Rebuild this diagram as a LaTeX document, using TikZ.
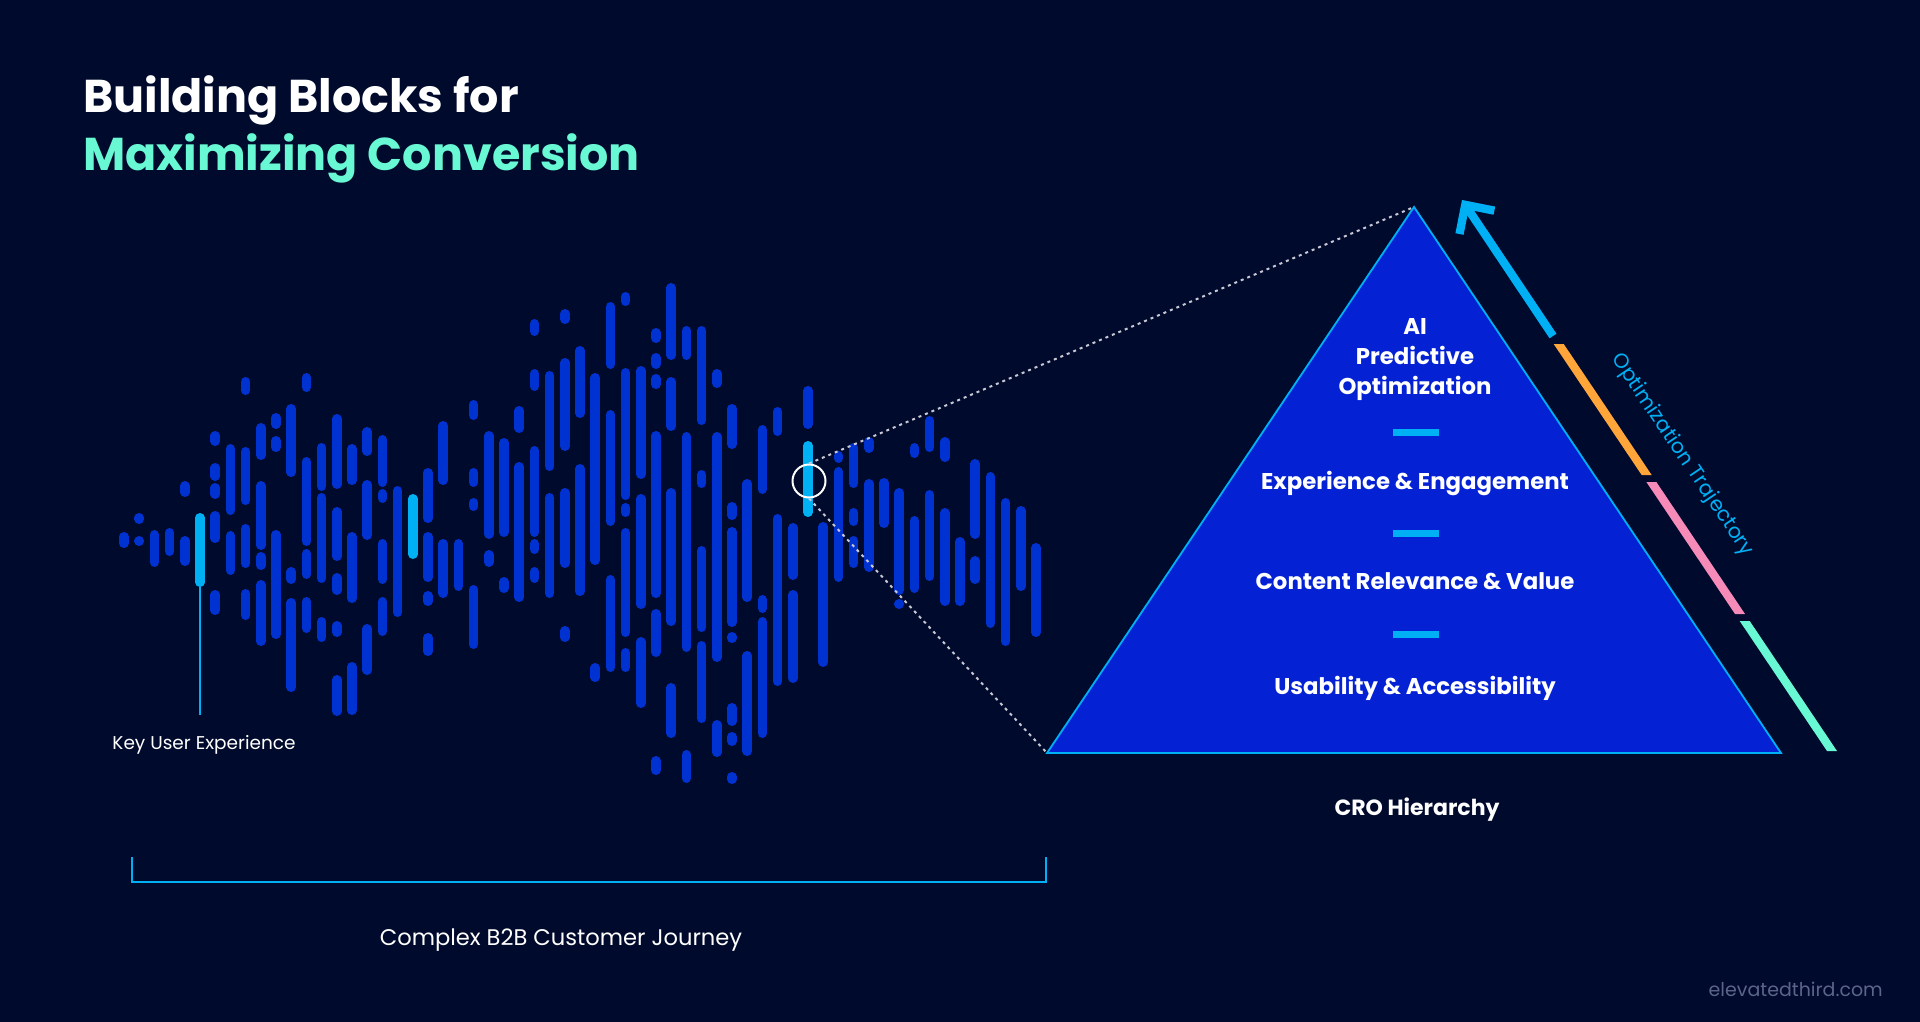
\documentclass[tikz,border=0pt]{standalone}
\usepackage{fontspec}
\setmainfont{Poppins}
\usepackage{tikz}
\usetikzlibrary{arrows.meta}
\definecolor{night}{RGB}{0,10,44}
\definecolor{barblue}{RGB}{0,50,210}
\definecolor{pyrblue}{RGB}{4,34,212}
\definecolor{skycyan}{RGB}{0,176,245}
\definecolor{mint}{RGB}{104,248,211}
\definecolor{amber}{RGB}{255,165,58}
\definecolor{rose}{RGB}{246,138,184}
\definecolor{dotgrey}{RGB}{200,200,212}
\definecolor{sitegrey}{RGB}{92,100,138}
\tikzset{
  wavebar/.style  ={draw=barblue, line width=9.5pt, line cap=round},
  keybar/.style   ={draw=skycyan, line width=9.5pt, line cap=round},
  keyline/.style  ={draw=skycyan, line width=1.6pt},
  ring/.style     ={circle, draw=white, line width=2pt, minimum size=33pt, inner sep=0pt},
  zoomline/.style ={draw=dotgrey, line width=2pt, dash pattern=on 3pt off 4pt},
  pyramid/.style  ={fill=pyrblue, draw=skycyan, line width=1.8pt, line join=miter},
  sepdash/.style  ={draw=skycyan, line width=7pt},
  bracket/.style  ={draw=skycyan, line width=2pt},
  trajarrow/.style={draw=skycyan, line width=8.3pt, -{Straight Barb[length=21pt,width=42pt]}},
  titletext/.style={anchor=base west, inner sep=0pt, text=white, font=\bfseries\fontsize{46}{54}\selectfont},
  lvltext/.style  ={anchor=base, inner sep=0pt, text=white, font=\bfseries\fontsize{22.8}{30}\selectfont},
  captext/.style  ={anchor=base, inner sep=0pt, text=white, font=\fontsize{22.6}{26}\selectfont},
  crotext/.style  ={captext, font=\bfseries\fontsize{22}{26}\selectfont},
  keytext/.style  ={captext, font=\fontsize{18.5}{22}\selectfont},
  trajtext/.style ={inner sep=0pt, text=skycyan, font=\fontsize{20.5}{24}\selectfont},
  sitetext/.style ={anchor=base east, inner sep=0pt, text=sitegrey, font=\fontsize{19}{23}\selectfont},
}

\begin{document}
\begin{tikzpicture}[x=1pt,y=-1pt]
% --- background ---
\fill[night] (0,0) rectangle (1920,1022);
% --- title ---
\node[titletext] (title1) at (83,113) {Building Blocks for};
\node[titletext, text=mint] (title2) at (83,171) {Maximizing Conversion};
% --- journey: column / top / bottom ---
\foreach \i/\a/\b in {0/532/548, 1/513/524, 1/536/545, 2/530/567, 3/528/556, 4/481/497, 4/536/566,
  6/431/446, 6/463/481, 6/483/499, 6/511/543, 6/590/615, 7/444/515, 7/531/575,
  8/377/395, 8/447/505, 8/524/568, 8/589/620, 9/423/460, 9/481/550, 9/552/570, 9/580/646,
  10/413/429, 10/436/452, 10/530/639, 11/404/477, 11/567/584, 11/598/692,
  12/373/392, 12/457/546, 12/549/579, 12/597/633, 13/443/491, 13/493/583, 13/617/642,
  14/414/489, 14/507/561, 14/573/595, 14/621/637, 14/675/716, 15/444/485, 15/532/603, 15/662/715,
  16/427/456, 16/480/540, 16/624/675, 17/435/487, 17/489/503, 17/539/584, 17/597/636,
  18/486/617, 20/468/523, 20/532/582, 20/591/606, 20/633/656, 21/421/485, 21/539/598,
  22/539/591, 23/400/420, 23/468/487, 23/498/511, 23/585/649, 24/431/539, 24/550/567,
  25/438/537, 25/577/593, 26/406/433, 26/462/602,
  27/319/336, 27/369/391, 27/446/537, 27/539/554, 27/567/583, 28/371/471, 28/493/598,
  29/309/324, 29/358/451, 29/488/568, 29/626/642, 30/346/418, 30/464/596, 31/373/565, 31/663/682,
  32/302/369, 32/410/526, 32/575/672, 33/292/306, 33/368/500, 33/503/517, 33/528/637, 33/648/672,
  34/366/479, 34/494/609, 34/637/708, 35/328/343, 35/353/369, 35/374/389, 35/431/598, 35/609/657, 35/756/775,
  36/283/360, 36/377/431, 36/488/626, 36/683/738, 37/326/360, 37/432/652, 37/750/783,
  38/326/425, 38/470/488, 38/546/632, 38/641/723, 39/369/388, 39/432/662, 39/720/757,
  40/404/449, 40/502/520, 40/527/627, 40/632/643, 40/703/726, 40/732/746, 40/772/784,
  41/479/602, 41/651/756, 42/425/494, 42/595/613, 42/617/738, 43/407/436, 43/514/686,
  44/523/580, 44/590/683, 45/386/429, 46/522/667, 47/451/463, 47/467/582,
  48/443/488, 48/508/526, 48/536/568, 49/437/453, 49/479/572, 50/478/528,
  51/488/595, 51/599/606, 52/443/458, 52/516/593, 53/416/452, 53/490/581,
  54/437/462, 54/508/606, 55/537/606, 56/459/539, 56/556/584, 57/472/628,
  58/498/646, 59/506/591, 60/543/637} {
  \pgfmathsetmacro\xx{124+15.2*\i}
  \pgfmathsetmacro\ya{\a+4.75}
  \pgfmathsetmacro\yb{max(\b-4.75,\ya+0.5)}
  \draw[wavebar] (\xx,\ya) -- (\xx,\yb);
}
% --- highlighted experiences ---
\foreach \i/\a/\b in {5/513/587, 19/494/559, 45/441/517} {
  \pgfmathsetmacro\xx{124+15.2*\i}
  \draw[keybar] (\xx,\a+4.75) -- (\xx,\b-4.75);
}
\coordinate (kux) at (200,587);
\coordinate (kuxend) at (200,715);
\draw[keyline] (kux) -- (kuxend);
\node[keytext] (keyux) at (204,749.5) {Key User Experience};
% --- journey bracket ---
\coordinate (jl) at (132,857);
\coordinate (jr) at (1046,857);
\draw[bracket] (jl) -- ++(0,25) -| (jr);
\node[captext] (journey) at (561,945.5) {Complex B2B Customer Journey};
% --- pyramid ---
\coordinate (apex) at (1414,207);
\coordinate (bl) at (1047,753);
\coordinate (br) at (1781,753);
\node[ring] (lens) at (809,481) {};
\draw[zoomline] (lens.north) -- (apex);
\draw[zoomline] (lens.south) -- (bl);
\draw[pyramid] (apex) -- (br) -- (bl) -- cycle;
\node[lvltext, anchor=north, align=center] (lvl4) at (1415,318.5) {AI\\Predictive\\Optimization};
\node[lvltext] (lvl3) at (1415,489.5) {Experience \& Engagement};
\node[lvltext] (lvl2) at (1415,589.5) {Content Relevance \& Value};
\node[lvltext] (lvl1) at (1415,694.5) {Usability \& Accessibility};
\foreach \y in {432,533,634} {\draw[sepdash] (1393,\y) -- (1439,\y);}
\node[crotext] (cro) at (1417,815.5) {CRO Hierarchy};
% --- trajectory ---
\coordinate (trtop) at (1462,200);
\coordinate (trcyan) at (1553,336);
\draw[trajarrow] (trcyan) -- (trtop);
\foreach \c/\ya/\yb in {amber/344/475, rose/482/614, mint/621/751} {
  \pgfmathsetmacro\xa{1462+0.6715*(\ya-200)}
  \pgfmathsetmacro\xb{1462+0.6715*(\yb-200)}
  \fill[\c] (\xa-5,\ya) -- (\xa+5,\ya) -- (\xb+5,\yb) -- (\xb-5,\yb) -- cycle;
}
\node[trajtext, rotate=-56.1] (trajlabel) at (1682,455) {Optimization Trajectory};
% --- footer ---
\node[sitetext] (site) at (1883,996.5) {elevatedthird.com};
\end{tikzpicture}
\end{document}
